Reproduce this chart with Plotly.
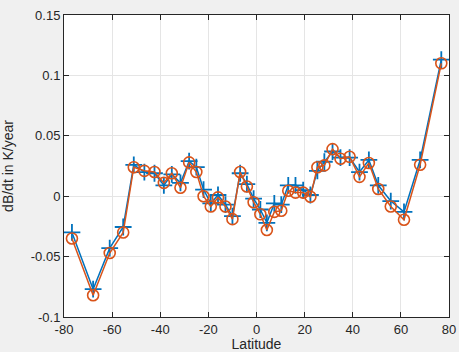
import plotly.graph_objects as go

lat = [-76.7, -67.9, -61.0, -55.4, -51.0, -46.6, -42.4, -38.5, -35.2, -31.6,
       -28.0, -25.0, -22.0, -19.0, -16.0, -12.9, -10.0, -6.8, -4.0, -1.2,
       1.6, 4.3, 7.4, 10.3, 13.2, 16.2, 19.4, 22.4, 25.3, 28.2,
       31.6, 34.9, 38.7, 42.8, 46.7, 50.6, 55.8, 61.3, 68.0, 76.8]

series_blue = [-0.030, -0.077, -0.043, -0.0255, 0.026, 0.020, 0.019, 0.009, 0.018, 0.011,
               0.029, 0.024, 0.0055, -0.006, 0.001, -0.007, -0.0165, 0.019, 0.010, -0.002,
               -0.011, -0.022, -0.006, -0.007, 0.009, 0.009, 0.005, 0.001, 0.021, 0.0285,
               0.037, 0.032, 0.032, 0.020, 0.030, 0.009, -0.004, -0.013, 0.030, 0.113]

series_orange = [-0.035, -0.082, -0.047, -0.030, 0.024, 0.021, 0.020, 0.011, 0.019, 0.007,
                 0.028, 0.020, 0.000, -0.0085, -0.001, -0.0085, -0.019, 0.020, 0.008, -0.005,
                 -0.015, -0.028, -0.013, -0.012, 0.0045, 0.003, 0.003, -0.0005, 0.024, 0.0255,
                 0.039, 0.031, 0.0326, 0.016, 0.0275, 0.006, -0.0085, -0.0195, 0.026, 0.110]

x_ticks = [-80, -60, -40, -20, 0, 20, 40, 60, 80]
y_ticks = [-0.1, -0.05, 0, 0.05, 0.1, 0.15]
y_tick_text = ["-0.1", "-0.05", "0", "0.05", "0.1", "0.15"]

BLUE = "#0072BD"
ORANGE = "#D95319"
FONT = "Liberation Sans, Arial, sans-serif"
BG = "#f0f0f0"

fig = go.Figure()
fig.add_trace(go.Scatter(
    x=lat, y=series_blue, mode="lines+markers",
    line=dict(color=BLUE, width=1.5),
    marker=dict(symbol="cross-thin", size=12, line=dict(color=BLUE, width=1.8)),
    showlegend=False, cliponaxis=False))
fig.add_trace(go.Scatter(
    x=lat, y=series_orange, mode="lines+markers",
    line=dict(color=ORANGE, width=1.5),
    marker=dict(symbol="circle-open", size=11, color=ORANGE, line=dict(color=ORANGE, width=1.6)),
    showlegend=False, cliponaxis=False))

axis_common = dict(
    showline=True, linecolor="#262626", linewidth=1, mirror="ticks",
    ticks="inside", ticklen=5, tickcolor="#262626", tickwidth=1,
    showgrid=True, gridcolor="#e5e5e5", gridwidth=1, zeroline=False,
    tickfont=dict(family=FONT, size=13, color="#262626"),
    automargin=False,
)

fig.update_xaxes(range=[-80, 80], tickvals=x_ticks, ticktext=[str(v) for v in x_ticks],
                 title=dict(text="Latitude", font=dict(family=FONT, size=14, color="#262626")),
                 **axis_common)
fig.update_yaxes(range=[-0.1, 0.15], tickvals=y_ticks, ticktext=y_tick_text,
                 title=dict(text="dB/dt in K/year", font=dict(family=FONT, size=14, color="#262626")),
                 **axis_common)

fig.update_layout(
    width=459, height=352,
    margin=dict(l=64, r=10, t=15, b=35, autoexpand=False),
    paper_bgcolor=BG, plot_bgcolor="#ffffff",
)

fig.write_html(
    "out.html",
    config={"displayModeBar": False},
    post_script="document.body.style.margin='0';document.body.style.padding='0';"
                "document.body.style.background='%s';" % BG,
)
